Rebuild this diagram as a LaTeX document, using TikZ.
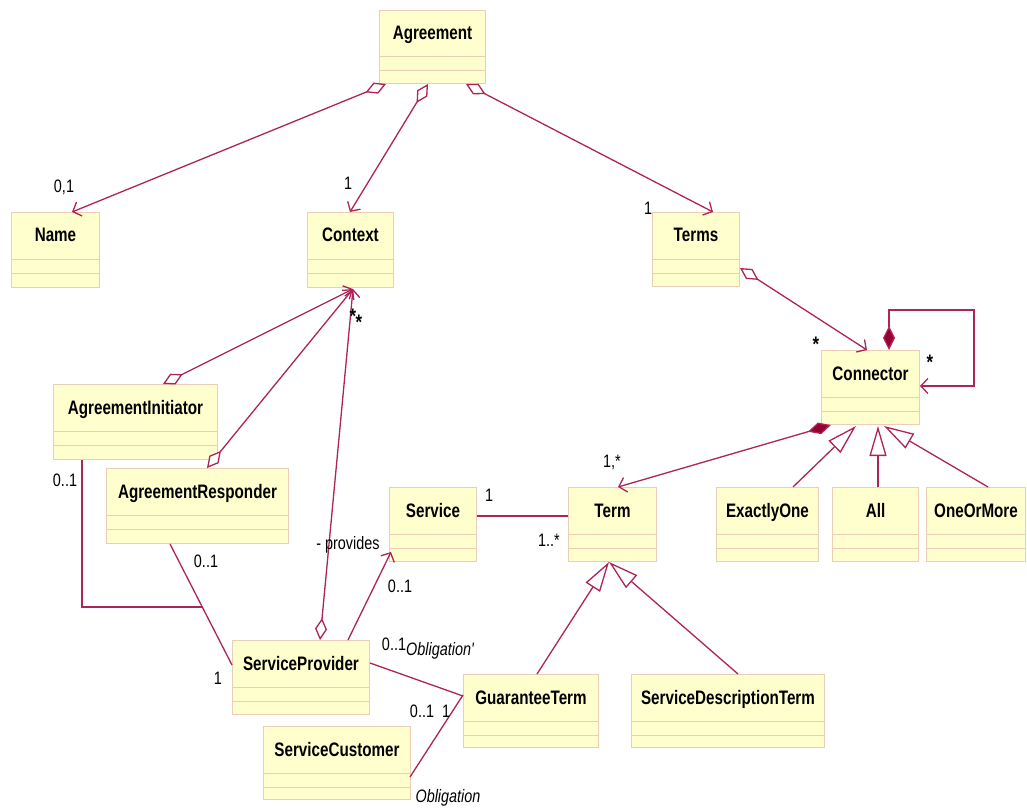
\documentclass[tikz,border=0pt]{standalone}
\usepackage{fontspec}
\setmainfont{Liberation Sans}
\newfontfamily\classfont{Liberation Sans}[FakeStretch=0.78]
\newfontfamily\labelfont{Liberation Sans}[FakeStretch=0.8]
\usetikzlibrary{arrows.meta,calc}

\definecolor{boxfill}{RGB}{255,255,206}
\definecolor{boxline}{RGB}{236,206,184}
\definecolor{assoc}{RGB}{172,36,88}
\definecolor{compfill}{RGB}{150,0,48}

\tikzset{
  classbox/.style={draw=boxline, fill=boxfill, line width=1pt, inner sep=0pt, anchor=north west},
  classname/.style={font=\classfont\bfseries\fontsize{19.5}{22}\selectfont, inner sep=0pt, anchor=base},
  comp/.style={draw=boxline, line width=1pt},
  rel/.style={draw=assoc, line width=1.3pt},
  navtip/.tip={Straight Barb[length=7pt,width=15pt]},
  nav/.style={-navtip},
  aggr/.style={{Diamond[length=22pt,width=12pt,fill=white]}-navtip},
  compos/.style={{Diamond[length=24pt,width=12pt,fill=compfill]}-navtip},
  gen/.style={-{Triangle[length=30pt,width=17pt,fill=white]}},
  mult/.style={font=\labelfont\fontsize{18}{20}\selectfont, inner sep=0pt},
  star/.style={font=\labelfont\bfseries\fontsize{21}{22}\selectfont, inner sep=0pt},
  role/.style={font=\labelfont\itshape\fontsize{18}{20}\selectfont, inner sep=0pt},
}

% class box: name, left, top, right, bottom, title
\newcommand\umlclass[6]{%
  \node[classbox, minimum width={(#4-#2)*1pt}, minimum height={(#5-#3)*1pt}] (#1) at (#2,#3) {};
  \node[classname] (#1-title) at ($(#1.north)+(0,30)$) {#6};
  \draw[comp] ($(#1.north west)+(0,47)$) -- ($(#1.north east)+(0,47)$);
  \draw[comp] ($(#1.north west)+(0,61)$) -- ($(#1.north east)+(0,61)$);
}

\begin{document}
\begin{tikzpicture}[x=1pt, y=-1pt]
\useasboundingbox (0,0) rectangle (1027,810);

% classes
\umlclass{agr}{379}{10}{485}{83}{Agreement}
\umlclass{name}{11}{212}{99}{287}{Name}
\umlclass{ctx}{307}{212}{393}{287}{Context}
\umlclass{terms}{652}{212}{739}{286}{Terms}
\umlclass{conn}{821}{350}{919}{424}{Connector}
\umlclass{init}{53}{384}{217}{459}{AgreementInitiator}
\umlclass{resp}{106}{468}{288}{543}{AgreementResponder}
\umlclass{serv}{389}{487}{476}{561}{Service}
\umlclass{term}{568}{487}{656}{561}{Term}
\umlclass{exone}{716}{487}{818}{561}{ExactlyOne}
\umlclass{all}{832}{487}{918}{561}{All}
\umlclass{oneom}{926}{487}{1025}{561}{OneOrMore}
\umlclass{sprov}{232}{640}{369}{714}{ServiceProvider}
\umlclass{gterm}{463}{674}{598}{747}{GuaranteeTerm}
\umlclass{sdterm}{631}{674}{824}{747}{ServiceDescriptionTerm}
\umlclass{scust}{263}{726}{410}{799}{ServiceCustomer}

% Agreement aggregations
\draw[rel, aggr] ($(agr.south west)+(7,0)$) -- ($(name.north west)+(61,0)$);
\draw[rel, aggr] ($(agr.south west)+(49,0)$) -- ($(ctx.north west)+(43,0)$);
\draw[rel, aggr] ($(agr.south west)+(87,0)$) -- ($(terms.north west)+(61,0)$);
\node[mult] (m-name) at (64,187) {0,1};
\node[mult] (m-ctx) at (348,183) {1};
\node[mult] (m-terms) at (648,208) {1};

% Terms to Connector
\draw[rel, aggr] ($(terms.north east)+(0,56)$) -- ($(conn.north west)+(46,0)$);
\node[star] (m-conn) at (816,344) {*};

% Connector self composition
\coordinate (self-a) at ($(conn.north west)+(68,-40)$);
\coordinate (self-b) at ($(conn.north east)+(54,36)$);
\draw[rel, compos] ($(conn.north west)+(68,0)$) -- (self-a) -| (self-b) -- ($(conn.north east)+(0,36)$);
\node[star] (m-self) at (930,362) {*};

% Connector to Term
\draw[rel, compos] ($(conn.south west)+(10,0)$) -- ($(term.north west)+(50,0)$);
\node[mult] (m-term) at (612,462) {1,*};

% Connector specialisations
\draw[rel, gen] ($(exone.north west)+(77,0)$) -- ($(conn.south west)+(35,1)$);
\draw[rel, gen] ($(all.north west)+(46,0)$) -- ($(conn.south west)+(57,1)$);
\draw[rel, gen] ($(oneom.north west)+(62,0)$) -- ($(conn.south west)+(63,1)$);

% Service -- Term
\draw[rel] ($(serv.north east)+(0,29)$) -- ($(term.north west)+(0,29)$);
\node[mult] (m-serv1) at (489,495) {1};
\node[mult] (m-term1) at (549,540) {1..*};

% Term specialisations
\draw[rel, gen] ($(gterm.north west)+(74,0)$) -- ($(term.south west)+(41,0)$);
\draw[rel, gen] ($(sdterm.north west)+(107,0)$) -- ($(term.south west)+(41,0)$);

% parties in the Context
\draw[rel, aggr] ($(init.north west)+(110,0)$) -- ($(ctx.south west)+(46,1)$);
\draw[rel, aggr] ($(resp.north west)+(101,0)$) -- ($(ctx.south west)+(46,1)$);
\draw[rel, aggr] ($(sprov.north west)+(88,0)$) -- ($(ctx.south west)+(46,1)$);
\node[star] (m-ctx1) at (353,316) {*};
\node[star] (m-ctx2) at (359,322) {*};
\node[mult] (m-prov) at (348,545) {- provides};

% ServiceProvider to Service
\draw[rel, nav] ($(sprov.north west)+(116,0)$) -- ($(serv.south west)+(2,-10)$);
\node[mult] (m-serv2) at (400,586) {0..1};

% AgreementResponder -- ServiceProvider, joined by AgreementInitiator
\draw[rel] ($(resp.south west)+(64,0)$) -- coordinate[pos=0.52] (join) ($(sprov.north west)+(0,25)$);
\draw[rel] ($(init.south west)+(29,0)$) |- (join);
\node[mult] (m-init) at (65,480) {0..1};
\node[mult] (m-resp) at (206,561) {0..1};
\node[mult] (m-sprov) at (218,678) {1};

% Obligation associations
\draw[rel] ($(sprov.north east)+(0,23)$) -- ($(gterm.north west)+(0,22)$);
\node[mult] (m-ob1) at (394,644) {0..1};
\node[role] (r-ob1) at (440,651) {Obligation'};
\draw[rel] ($(scust.north east)+(-1,51)$) -- ($(gterm.north west)+(0,21)$);
\node[mult] (m-ob2) at (422,711) {0..1};
\node[mult] (m-ob3) at (446,711) {1};
\node[role] (r-ob2) at (448,798) {Obligation};
\end{tikzpicture}
\end{document}
